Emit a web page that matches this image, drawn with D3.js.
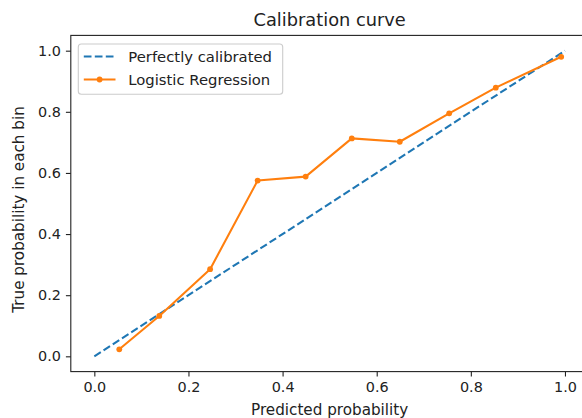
<!DOCTYPE html>
<html>
<head>
<meta charset="utf-8">
<script src="https://cdn.jsdelivr.net/npm/d3@7"></script>
<style>
  html, body { margin: 0; padding: 0; background: #fff; }
  svg { display: block; font-family: "DejaVu Sans", sans-serif; }
</style>
</head>
<body>
<svg id="chart" width="582" height="418"></svg>
<script>
// Reliability diagram: mean predicted probability vs. fraction of positives per bin
const meanPredicted = [0.053, 0.138, 0.246, 0.347, 0.449, 0.547, 0.649, 0.754, 0.853, 0.992];
const fractionPositives = [0.023, 0.132, 0.285, 0.575, 0.588, 0.713, 0.702, 0.795, 0.879, 0.980];
const diagonalX = [0, 1];
const diagonalY = [0, 1];
const tickValues = [0.0, 0.2, 0.4, 0.6, 0.8, 1.0];
const seriesNames = ["Perfectly calibrated", "Logistic Regression"];
const seriesColors = ["#1f77b4", "#ff7f0e"];

(function () {
  const svg = d3.select("#chart");

  // plot area (right edge sits just beyond the canvas)
  const pLeft = 70.8, pRight = 588.5, pTop = 35.4, pBottom = 371.6;

  const x = d3.scaleLinear().domain([-0.05, 1.05]).range([pLeft, pRight]);
  const y = d3.scaleLinear().domain([-0.05, 1.05]).range([pBottom, pTop]);

  svg.append("clipPath").attr("id", "plotClip")
    .append("rect").attr("x", pLeft).attr("y", pTop)
    .attr("width", pRight - pLeft).attr("height", pBottom - pTop);

  const plot = svg.append("g").attr("clip-path", "url(#plotClip)");

  const line = d3.line().x(d => x(d[0])).y(d => y(d[1]));

  // y = x reference
  plot.append("path")
    .datum(diagonalX.map((v, i) => [v, diagonalY[i]]))
    .attr("d", line)
    .attr("fill", "none")
    .attr("stroke", seriesColors[0])
    .attr("stroke-width", 2.08)
    .attr("stroke-dasharray", "7.7,3.3");

  // model curve
  const curve = meanPredicted.map((v, i) => [v, fractionPositives[i]]);
  plot.append("path")
    .datum(curve)
    .attr("d", line)
    .attr("fill", "none")
    .attr("stroke", seriesColors[1])
    .attr("stroke-width", 2.08)
    .attr("stroke-linejoin", "round");

  plot.selectAll("circle.pt")
    .data(curve)
    .enter().append("circle")
    .attr("class", "pt")
    .attr("cx", d => x(d[0]))
    .attr("cy", d => y(d[1]))
    .attr("r", 2.9)
    .attr("fill", seriesColors[1]);

  // axes
  const fmt = d3.format(".1f");
  const xAxis = svg.append("g")
    .attr("transform", `translate(0,${pBottom})`)
    .call(d3.axisBottom(x).tickValues(tickValues).tickFormat(fmt).tickSize(4.9).tickPadding(4.9).tickSizeOuter(0));
  const yAxis = svg.append("g")
    .attr("transform", `translate(${pLeft},0)`)
    .call(d3.axisLeft(y).tickValues(tickValues).tickFormat(fmt).tickSize(4.9).tickPadding(4.9).tickSizeOuter(0));

  [xAxis, yAxis].forEach(a => {
    a.select(".domain").remove();
    a.selectAll(".tick line").attr("stroke", "#222").attr("stroke-width", 1.1);
    a.selectAll(".tick text")
      .attr("fill", "#222")
      .style("font-family", "DejaVu Sans, sans-serif")
      .style("font-size", "14.4px");
  });

  // frame
  svg.append("rect")
    .attr("x", pLeft).attr("y", pTop)
    .attr("width", pRight - pLeft).attr("height", pBottom - pTop)
    .attr("fill", "none").attr("stroke", "#222").attr("stroke-width", 1.1);

  // title and axis labels
  const cx = (pLeft + pRight) / 2;
  svg.append("text")
    .attr("x", cx).attr("y", 26)
    .attr("text-anchor", "middle")
    .attr("fill", "#222")
    .style("font-size", "17.8px")
    .text("Calibration curve");

  svg.append("text")
    .attr("x", cx).attr("y", 415)
    .attr("text-anchor", "middle")
    .attr("fill", "#222")
    .style("font-size", "15.2px")
    .text("Predicted probability");

  svg.append("text")
    .attr("transform", `translate(23.5,${(pTop + pBottom) / 2 + 6}) rotate(-90)`)
    .attr("text-anchor", "middle")
    .attr("fill", "#222")
    .style("font-size", "15.2px")
    .text("True probability in each bin");

  // legend
  const lg = svg.append("g");
  lg.append("rect")
    .attr("x", 78.3).attr("y", 44)
    .attr("width", 204.4).attr("height", 50.3)
    .attr("rx", 3).attr("ry", 3)
    .attr("fill", "#fff").attr("fill-opacity", 0.8)
    .attr("stroke", "#ccc").attr("stroke-width", 1.1);

  const rowsY = [56.5, 79.5];
  seriesNames.forEach((name, i) => {
    const yy = rowsY[i];
    const ln = lg.append("line")
      .attr("x1", 83.8).attr("x2", 115.5)
      .attr("y1", yy).attr("y2", yy)
      .attr("stroke", seriesColors[i]).attr("stroke-width", 2.08);
    if (i === 0) ln.attr("stroke-dasharray", "7.7,3.3");
    else lg.append("circle").attr("cx", 99.6).attr("cy", yy).attr("r", 2.9).attr("fill", seriesColors[i]);
    lg.append("text")
      .attr("x", 128.3).attr("y", yy + 5.3)
      .attr("fill", "#222")
      .style("font-size", "14.8px")
      .text(name);
  });
})();
</script>
</body>
</html>
